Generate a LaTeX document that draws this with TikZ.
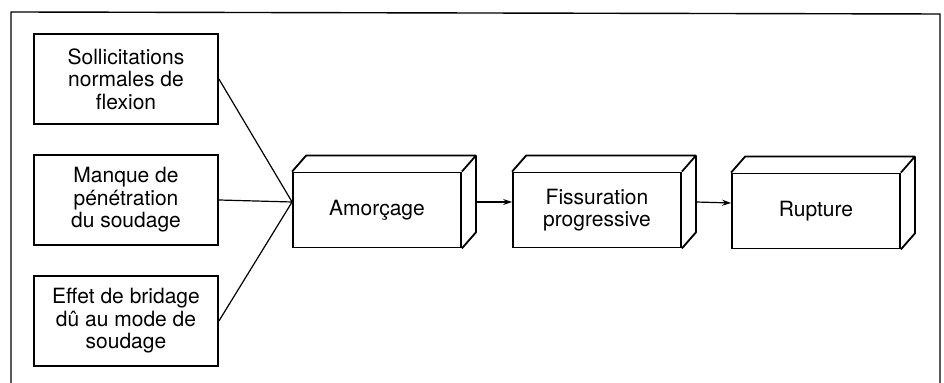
\documentclass[tikz,border=0pt]{standalone}
\usepackage{fontspec}
\setmainfont{TeX Gyre Heros}
\usetikzlibrary{arrows.meta, positioning}

\tikzset{
  cause/.style={draw, line width=0.9pt, minimum width=92pt, minimum height=45pt, align=center, inner sep=2pt},
  stage/.style={draw, line width=0.9pt, minimum width=84pt, minimum height=37.5pt, align=center},
  link/.style={line width=0.6pt},
}

\begin{document}
\begin{tikzpicture}[x=0.5pt, y=-0.5pt, font=\fontsize{10.5}{11.25}\selectfont]

\useasboundingbox (0,0) rectangle (944,383);

% Frame
\draw[line width=0.7pt] (11,383) -- (11,12) -- (940,14) -- (940,383);

% Define nodes
\path (126,200)
node[cause] (manque) {Manque de\\pénétration\\du soudage}
(manque) +(0,-121) node[cause] (sollic) {Sollicitations\\normales de\\flexion}
(manque) +(0,121) node[cause] (effet) {Effet de bridage\\dû au mode de\\soudage}
(manque) +(251,10) node[stage] (amorce) {Amorçage}
(amorce) +(220,0) node[stage] (fissur) {Fissuration\\progressive}
(fissur) +(219,1) node[stage] (rupt) {Rupture}
([yshift=4pt]amorce.west) coordinate (hub)
;

% Depth of the blocks
\foreach \n in {amorce, fissur, rupt}
  \draw[line width=0.9pt, line join=round]
    (\n.north west) -- ++(14,-16) -- ([shift={(14,-16)}]\n.north east)
    -- ([shift={(14,-16)}]\n.south east) -- (\n.south east)
    (\n.north east) -- ++(14,-16);

\draw[link]
(sollic.east) -- (hub)
(manque.east) -- (hub)
(effet.east) -- (hub)
;

\draw[link, -{Stealth[length=4.5pt, width=3pt]}] ([shift={(7pt,4pt)}]amorce.east) -- ([yshift=4pt]fissur.west);
\draw[link, -{Stealth[length=4.5pt, width=3pt]}] ([shift={(7pt,4pt)}]fissur.east) -- ([yshift=4pt]rupt.west);

\end{tikzpicture}
\end{document}
